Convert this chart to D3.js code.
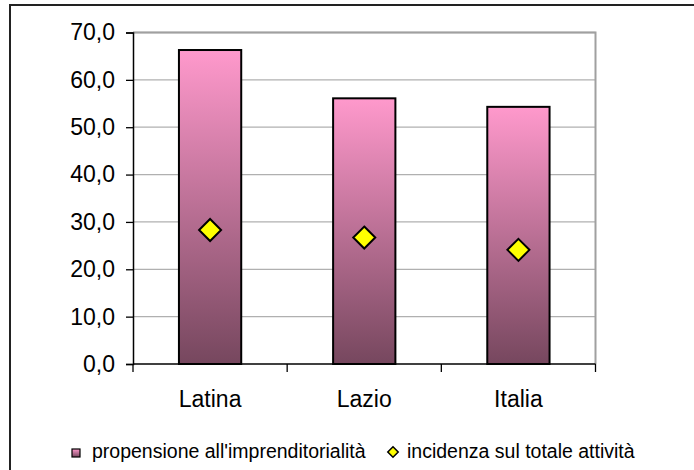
<html>
<head>
<script src="https://cdn.jsdelivr.net/npm/d3@7"></script>
<style>
  body { margin: 0; background: #fff; }
  text { font-family: "Liberation Sans", Arial, sans-serif; fill: #000; }
</style>
</head>
<body>
<svg id="container" width="694" height="470"></svg>
<script>
  // data
  let categories = ["Latina", "Lazio", "Italia"]
  let propensione = [66.3, 56.1, 54.3]
  let incidenza = [28.3, 26.7, 24.1]
  let yTicks = [0, 10, 20, 30, 40, 50, 60, 70]
  let legendLabels = ["propensione all'imprenditorialità", "incidenza sul totale attività"]

  let svg = d3.select("#container")

  let defs = svg.append("defs")
  let grad = defs.append("linearGradient")
      .attr("id", "barGrad")
      .attr("x1", 0).attr("y1", 0).attr("x2", 0).attr("y2", 1)
  grad.append("stop").attr("offset", "0%").attr("stop-color", "#ff99cc")
  grad.append("stop").attr("offset", "100%").attr("stop-color", "#76475e")

  // outer frame (right and bottom edges fall outside the picture)
  svg.append("rect")
      .attr("x", 10).attr("y", 5)
      .attr("width", 720).attr("height", 500)
      .attr("fill", "none")
      .attr("stroke", "#222")
      .attr("stroke-width", 2)

  let plotLeft = 133, plotRight = 595.5, plotTop = 32.5, plotBottom = 364

  let x = d3.scaleBand()
      .domain(categories)
      .range([plotLeft, plotRight])
      .paddingInner(0.596)
      .paddingOuter(0.298)

  let y = d3.scaleLinear()
      .domain([0, 70])
      .range([plotBottom, plotTop])

  let fmt = d => d3.format(".1f")(d).replace(".", ",")

  // gridlines
  svg.append("g")
      .selectAll("line")
      .data(yTicks.slice(1))
      .enter().append("line")
      .attr("x1", plotLeft).attr("x2", plotRight)
      .attr("y1", d => y(d)).attr("y2", d => y(d))
      .attr("stroke", "#b0b0b0")
      .attr("stroke-width", 1.3)

  // plot area border top/right
  svg.append("path")
      .attr("d", `M${plotLeft},${plotTop}H${plotRight}V${plotBottom}`)
      .attr("fill", "none")
      .attr("stroke", "#a0a0a0")
      .attr("stroke-width", 2)

  // bars
  svg.append("g")
      .selectAll("rect")
      .data(categories)
      .enter().append("rect")
      .attr("x", d => x(d))
      .attr("width", x.bandwidth())
      .attr("y", (d, i) => y(propensione[i]))
      .attr("height", (d, i) => y(0) - y(propensione[i]))
      .attr("fill", "url(#barGrad)")
      .attr("stroke", "#000")
      .attr("stroke-width", 2)

  // y axis
  let yAxis = svg.append("g")
      .attr("transform", `translate(${plotLeft},0)`)
      .call(d3.axisLeft(y).tickValues(yTicks).tickFormat(fmt).tickSize(7).tickPadding(11))
  yAxis.select(".domain").attr("stroke", "#000").attr("stroke-width", 1.5)
  yAxis.selectAll(".tick line").attr("stroke", "#000").attr("stroke-width", 1.3)
  yAxis.selectAll("text").attr("font-size", 23).attr("fill", "#000")

  // x axis (labels at centers, ticks at category boundaries)
  let xAxis = svg.append("g")
      .attr("transform", `translate(0,${plotBottom})`)
      .call(d3.axisBottom(x).tickSize(0).tickPadding(27))
  xAxis.select(".domain").remove()
  xAxis.selectAll("text").attr("font-size", 23).attr("fill", "#000")

  svg.append("line")
      .attr("x1", plotLeft).attr("x2", plotRight)
      .attr("y1", plotBottom).attr("y2", plotBottom)
      .attr("stroke", "#000").attr("stroke-width", 1.5)

  svg.append("g")
      .selectAll("line")
      .data(d3.range(categories.length + 1))
      .enter().append("line")
      .attr("x1", i => plotLeft + i * x.step())
      .attr("x2", i => plotLeft + i * x.step())
      .attr("y1", plotBottom).attr("y2", plotBottom + 8)
      .attr("stroke", "#000").attr("stroke-width", 1.3)

  // diamonds
  let diamond = s => `M0,${-s}L${s},0L0,${s}L${-s},0Z`
  svg.append("g")
      .selectAll("path")
      .data(categories)
      .enter().append("path")
      .attr("transform", (d, i) => `translate(${x(d) + x.bandwidth() / 2},${y(incidenza[i])})`)
      .attr("d", diamond(11))
      .attr("fill", "#ffff00")
      .attr("stroke", "#000")
      .attr("stroke-width", 2)

  // legend
  let legend = svg.append("g")
  legend.append("rect")
      .attr("x", 72).attr("y", 449)
      .attr("width", 8).attr("height", 8)
      .attr("fill", "url(#barGrad)")
      .attr("stroke", "#000")
      .attr("stroke-width", 1.2)
  legend.append("text")
      .attr("x", 92).attr("y", 457.5)
      .attr("font-size", 19.5)
      .text(legendLabels[0])
  legend.append("path")
      .attr("transform", "translate(393,452)")
      .attr("d", diamond(5.2))
      .attr("fill", "#ffff00")
      .attr("stroke", "#000")
      .attr("stroke-width", 1.5)
  legend.append("text")
      .attr("x", 407).attr("y", 457.5)
      .attr("font-size", 19.5)
      .text(legendLabels[1])
</script>
</body>
</html>
